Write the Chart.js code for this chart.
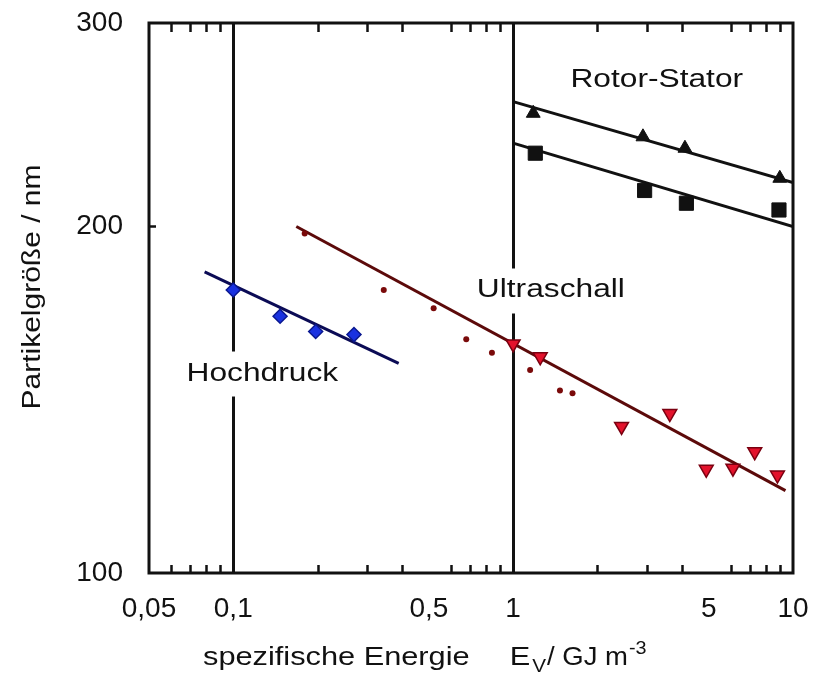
<!DOCTYPE html>
<html><head><meta charset="utf-8">
<script src="https://cdn.jsdelivr.net/npm/chart.js@4/dist/chart.umd.min.js"></script>
<style>html,body{margin:0;padding:0;background:#fff}#wrap{width:813px;height:679px}</style>
</head><body><div id="wrap"><canvas id="c" width="813" height="679"></canvas></div>
<script>
// ---- axis ticks ----
const xMajorTicks = [0.05, 0.1, 0.5, 1, 5, 10];
const xMajorLabels = ['0,05', '0,1', '0,5', '1', '5', '10'];
const xMinorTicks = [0.06, 0.07, 0.08, 0.09, 0.2, 0.3, 0.4, 0.6, 0.7, 0.8, 0.9, 2, 3, 4, 6, 7, 8, 9];
const xDividers = [0.1, 1];
const yTicks = [100, 200, 300];
const yTickLabels = ['100', '200', '300'];
const yInnerTicks = [200];

// ---- Hochdruck ----
const hochdruckX = [0.1, 0.147, 0.197, 0.27];
const hochdruckY = [176, 167, 162, 161];
const hochdruckFitX = [0.079, 0.39];
const hochdruckFitY = [182.5, 152];

// ---- Ultraschall ----
const ultraDotsX = [0.18, 0.345, 0.52, 0.68, 0.84, 1.15, 1.47, 1.63];
const ultraDotsY = [197, 176, 169.7, 159.5, 155.3, 150, 144, 143.2];
const ultraTriX = [1.0, 1.25, 2.44, 3.63, 4.9, 6.1, 7.3, 8.8];
const ultraTriY = [158, 154, 134, 137.5, 123, 123.3, 127.4, 121.6];
const ultraFitX = [0.168, 9.4];
const ultraFitY = [199.8, 117.9];

// ---- Rotor-Stator ----
const rotorTriX = [1.18, 2.91, 4.11, 8.97];
const rotorTriY = [250.5, 239, 233.6, 220];
const rotorSqX = [1.2, 2.95, 4.16, 8.91];
const rotorSqY = [231.3, 214.7, 209.3, 206.5];
const rotorFitUpperX = [1, 10];
const rotorFitUpperY = [256.4, 218.1];
const rotorFitLowerX = [1, 10];
const rotorFitLowerY = [236, 199.8];

// ---- text labels (anchored in data coordinates) ----
const labelTexts = ['Hochdruck', 'Ultraschall', 'Rotor-Stator'];
const labelX = [0.127, 1.364, 3.26];
const labelY = [149.7, 176.7, 269.3];
const labelBoxed = [true, true, false];

const xTitleMain = 'spezifische Energie';
const xTitleSym = 'E';
const xTitleSub = 'V';
const xTitleUnit = '/ GJ m';
const xTitleSup = '-3';
const yTitle = 'Partikelgröße / nm';

const zip = (xs, ys) => xs.map((x, i) => ({x: x, y: ys[i]}));
const FONT = '"Liberation Sans", Arial, Helvetica, sans-serif';
const INK = '#111';

function stretchText(ctx, t, x, y, sx) {
  ctx.save(); ctx.translate(x, y); ctx.scale(sx, 1); ctx.fillText(t, 0, 0); ctx.restore();
  return ctx.measureText(t).width * sx;
}

const decor = {
  id: 'decor',
  afterDraw(chart) {
    const {ctx, chartArea: a, scales} = chart;
    const xs = scales.x, ys = scales.y;
    ctx.save();
    // inward minor ticks (top & bottom)
    ctx.strokeStyle = INK; ctx.lineWidth = 2.5;
    xMinorTicks.forEach(v => {
      const px = Math.round(xs.getPixelForValue(v)) + 0.5;
      ctx.beginPath();
      ctx.moveTo(px, a.bottom); ctx.lineTo(px, a.bottom - 8);
      ctx.moveTo(px, a.top); ctx.lineTo(px, a.top + 9);
      ctx.stroke();
    });
    yInnerTicks.forEach(v => {
      const py = Math.round(ys.getPixelForValue(v)) + 0.5;
      ctx.beginPath(); ctx.moveTo(a.left, py); ctx.lineTo(a.left + 7, py); ctx.stroke();
    });
    // labels
    const SX = 1.22;
    ctx.font = '26px ' + FONT;
    ctx.textBaseline = 'alphabetic';
    ctx.textAlign = 'left';
    labelTexts.forEach((t, i) => {
      const cx = xs.getPixelForValue(labelX[i]);
      const cy = ys.getPixelForValue(labelY[i]);
      const base = cy + 9.5;
      const w = ctx.measureText(t).width * SX;
      if (labelBoxed[i]) {
        ctx.fillStyle = '#fff';
        ctx.fillRect(cx - w / 2 - 3, base - 29, w + 6, 45);
      }
      ctx.fillStyle = INK;
      stretchText(ctx, t, cx - w / 2, base, SX);
    });
    // frame
    ctx.strokeStyle = INK; ctx.lineWidth = 3;
    ctx.strokeRect(a.left, a.top, a.right - a.left, a.bottom - a.top);
    // x title
    ctx.fillStyle = INK;
    let x = 203; const base = 665;
    ctx.font = '25px ' + FONT;
    x += stretchText(ctx, xTitleMain, x, base, 1.23) + 40;
    x += stretchText(ctx, xTitleSym, x, base, 1.23) + 2;
    ctx.font = '18px ' + FONT;
    x += stretchText(ctx, xTitleSub, x, base + 7, 1.15) + 1;
    ctx.font = '25px ' + FONT;
    x += stretchText(ctx, xTitleUnit, x, base, 1.1) + 1;
    ctx.font = '18px ' + FONT;
    stretchText(ctx, xTitleSup, x, base - 11, 1.1);
    // y title
    ctx.translate(33, 287);
    ctx.rotate(-Math.PI / 2);
    ctx.font = '25px ' + FONT;
    ctx.textAlign = 'center'; ctx.textBaseline = 'middle';
    ctx.scale(1.2, 1);
    ctx.fillText(yTitle, 0, 0);
    ctx.restore();
  }
};

const lineDs = (data, color) => ({
  data, showLine: true, borderColor: color, borderWidth: 3, pointRadius: 0, fill: false
});

new Chart(document.getElementById('c'), {
  type: 'scatter',
  data: {
    datasets: [
      {data: zip(hochdruckX, hochdruckY), pointStyle: 'rectRot', pointRadius: 7,
       backgroundColor: '#1a32e0', borderColor: '#0a1890', borderWidth: 1.5},
      {data: zip(ultraTriX, ultraTriY), pointStyle: 'triangle', rotation: 180, pointRadius: 8,
       backgroundColor: '#e3122c', borderColor: '#7a0010', borderWidth: 1.5},
      {data: zip(ultraDotsX, ultraDotsY), pointStyle: 'circle', pointRadius: 3,
       backgroundColor: '#7a0a0a', borderColor: '#7a0a0a', borderWidth: 0},
      {data: zip(rotorTriX, rotorTriY), pointStyle: 'triangle', pointRadius: 8,
       backgroundColor: '#111', borderColor: '#111', borderWidth: 1},
      {data: zip(rotorSqX, rotorSqY), pointStyle: 'rect', pointRadius: 10,
       backgroundColor: '#111', borderColor: '#111', borderWidth: 1},
      lineDs(zip(hochdruckFitX, hochdruckFitY), '#0b0b55'),
      lineDs(zip(ultraFitX, ultraFitY), '#5c0a0a'),
      lineDs(zip(rotorFitUpperX, rotorFitUpperY), '#111'),
      lineDs(zip(rotorFitLowerX, rotorFitLowerY), '#111')
    ]
  },
  options: {
    responsive: false, animation: false, devicePixelRatio: 1,
    layout: {padding: {top: 23, right: 20, left: 0, bottom: 0}},
    plugins: {legend: {display: false}, tooltip: {enabled: false}},
    scales: {
      x: {
        type: 'logarithmic', min: 0.05, max: 10,
        afterBuildTicks: s => { s.ticks = xMajorTicks.concat(xDividers).filter((v, i, arr) => arr.indexOf(v) === i).sort((a, b) => a - b).map(v => ({value: v})); },
        afterFit: s => { s.height = 106; s.paddingLeft = 0; s.paddingRight = 0; },
        ticks: {
          autoSkip: false, maxRotation: 0, padding: 19, color: INK,
          font: {family: FONT, size: 28},
          callback: v => { const i = xMajorTicks.indexOf(v); return i >= 0 ? xMajorLabels[i] : ''; }
        },
        grid: {
          drawTicks: false, lineWidth: 3,
          color: c => (c.tick && xDividers.includes(c.tick.value)) ? INK : 'rgba(0,0,0,0)'
        },
        border: {display: false}
      },
      y: {
        type: 'logarithmic', min: 100, max: 300,
        afterBuildTicks: s => { s.ticks = yTicks.map(v => ({value: v})); },
        afterFit: s => { s.width = 149; s.paddingTop = 0; s.paddingBottom = 0; },
        ticks: {
          autoSkip: false, padding: 26, color: INK,
          font: {family: FONT, size: 28},
          callback: v => { const i = yTicks.indexOf(v); return i >= 0 ? yTickLabels[i] : ''; }
        },
        grid: {display: false, drawTicks: false},
        border: {display: false}
      }
    }
  },
  plugins: [decor]
});
</script></body></html>
